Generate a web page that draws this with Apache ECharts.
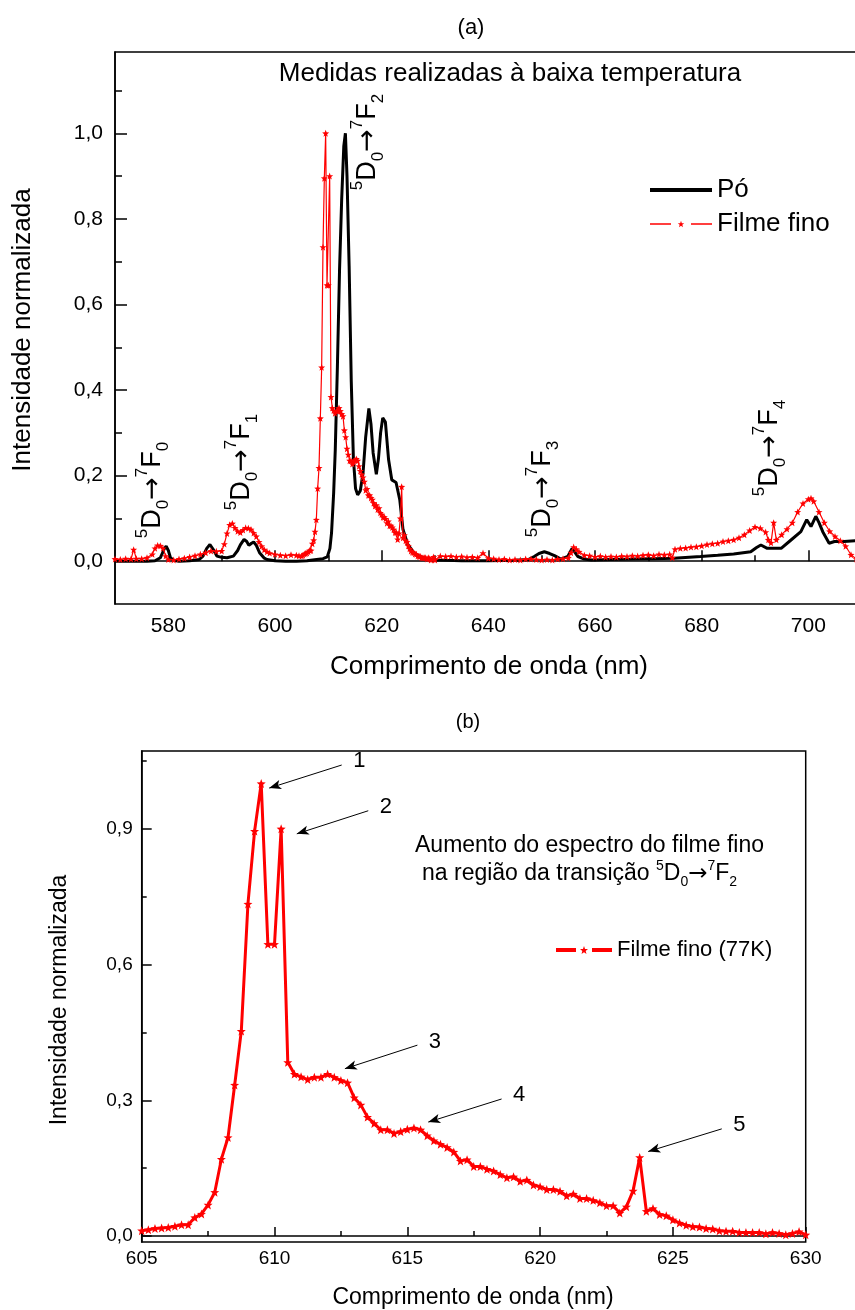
<!DOCTYPE html>
<html>
<head>
<meta charset="utf-8">
<script src="https://cdn.jsdelivr.net/npm/echarts@6/dist/echarts.min.js"></script>
<style>
  html, body { margin: 0; padding: 0; background: #fff; }
  #chart { width: 855px; height: 1310px; }
</style>
</head>
<body>
<div id="chart"></div>
<script>
// Low-temperature emission spectra (Eu3+ transitions)

// Powder ("Pó") spectrum
const poNm = [570, 572, 574, 576, 577.5, 578.5, 579.2, 579.6, 580.0, 580.4, 581, 582, 584, 585.8, 586.5, 587.2, 587.8, 588.4, 589.1, 590,
  591, 592.2, 593, 593.5, 594.2, 594.7, 595.1, 595.6, 596.0, 596.5, 597.1, 598, 598.5, 600, 602, 604, 606, 607.8, 609, 609.8,
  610.3, 610.6, 611.0, 611.3, 611.7, 612.1, 612.5, 612.9, 613.2, 613.5, 613.9, 614.3, 614.7, 615.1, 615.5, 616.0, 616.5, 617.0, 617.6, 618.0,
  618.4, 619.0, 619.4, 619.8, 620.2, 620.7, 621.3, 621.9, 622.7, 623.4, 624.0, 624.9, 626.1, 627.2, 628.5, 629.7, 632, 635, 640, 645,
  647.5, 648.6, 649.5, 650.5, 651.5, 652.4, 653.6, 654.9, 655.7, 656.8, 658, 659.3, 663, 667.3, 671, 674.8, 679.8, 683, 686, 689.2,
  690.3, 691.1, 692.3, 694.9, 696.7, 698.6, 699.7, 700.5, 701.4, 702.0, 702.7, 703.9, 704.9, 706.7, 708.9, 712];
const poInt = [0.0, 0.0, 0.0, 0.0, 0.001, 0.008, 0.028, 0.035, 0.025, 0.008, 0.002, 0.0, 0.001, 0.004, 0.012, 0.03, 0.039, 0.028, 0.012, 0.009,
  0.008, 0.012, 0.025, 0.038, 0.051, 0.046, 0.037, 0.042, 0.045, 0.037, 0.02, 0.007, 0.004, 0.001, 0.0, 0.0, 0.001, 0.004, 0.006, 0.01,
  0.03, 0.066, 0.16, 0.26, 0.455, 0.68, 0.845, 0.97, 1.0, 0.9, 0.69, 0.42, 0.24, 0.17, 0.155, 0.165, 0.205, 0.29, 0.357, 0.32,
  0.253, 0.203, 0.24, 0.3, 0.335, 0.325, 0.237, 0.19, 0.184, 0.143, 0.074, 0.039, 0.019, 0.011, 0.005, 0.003, 0.002, 0.001, 0.001, 0.002,
  0.004, 0.011, 0.018, 0.022, 0.018, 0.013, 0.005, 0.011, 0.03, 0.011, 0.005, 0.003, 0.004, 0.005, 0.006, 0.007, 0.011, 0.014, 0.017, 0.022,
  0.032, 0.038, 0.03, 0.03, 0.049, 0.069, 0.097, 0.081, 0.105, 0.09, 0.069, 0.042, 0.046, 0.046, 0.048, 0.048];

// Thin film ("Filme fino", 77 K) spectrum
const filmeNm = [570, 571, 572, 573, 573.5, 574, 575, 576, 577, 577.5, 578, 578.5, 579, 579.5, 580, 581, 582, 583, 584, 585,
  586, 587, 588, 589, 590, 590.5, 591, 591.5, 592, 592.5, 593, 593.5, 594, 594.5, 595, 595.5, 596, 596.5, 597, 597.5,
  598, 598.5, 599, 600, 601, 602, 603, 604, 604.5,
  605.00, 605.25, 605.50, 605.75, 606.00, 606.25, 606.50, 606.75, 607.00, 607.25, 607.50, 607.75, 608.00, 608.25, 608.50, 608.75,
  609.00, 609.25, 609.50, 609.75, 610.00, 610.25, 610.50, 610.75, 611.00, 611.25, 611.50, 611.75, 612.00, 612.25, 612.50, 612.75,
  613.00, 613.25, 613.50, 613.75, 614.00, 614.25, 614.50, 614.75, 615.00, 615.25, 615.50, 615.75, 616.00, 616.25, 616.50, 616.75,
  617.00, 617.25, 617.50, 617.75, 618.00, 618.25, 618.50, 618.75, 619.00, 619.25, 619.50, 619.75, 620.00, 620.25, 620.50, 620.75,
  621.00, 621.25, 621.50, 621.75, 622.00, 622.25, 622.50, 622.75, 623.00, 623.25, 623.50, 623.75, 624.00, 624.25, 624.50, 624.75,
  625.00, 625.25, 625.50, 625.75, 626.00, 626.25, 626.50, 626.75, 627.00, 627.25, 627.50, 627.75, 628.00, 628.25, 628.50, 628.75,
  629.00, 629.25, 629.50, 629.75, 630.00,
  631, 632, 633, 634, 635, 636, 637, 638, 639, 640, 641, 642, 643, 644, 645, 646, 647, 648, 649, 650,
  651, 652, 653, 654, 655, 655.5, 656, 656.5, 657, 658, 659, 660, 661, 662, 663, 664, 665, 666, 667, 668,
  669, 670, 671, 672, 673, 674, 674.5, 675, 676, 677, 678, 679, 680, 681, 682, 683, 684, 685, 686, 687,
  688, 689, 690, 691, 692, 692.5, 693, 693.5, 694, 695, 696, 697, 698, 699, 700, 700.5, 701, 702, 703, 704,
  705, 706, 707, 708, 709];
const filmeInt = [0.005, 0.004, 0.006, 0.005, 0.027, 0.006, 0.006, 0.008, 0.016, 0.030, 0.037, 0.036, 0.030, 0.012, 0.004, 0.003, 0.005, 0.007, 0.010, 0.013,
  0.016, 0.020, 0.024, 0.023, 0.024, 0.040, 0.065, 0.085, 0.088, 0.078, 0.070, 0.067, 0.073, 0.078, 0.077, 0.074, 0.066, 0.058, 0.045, 0.035,
  0.027, 0.022, 0.019, 0.016, 0.014, 0.013, 0.015, 0.014, 0.013,
  0.012, 0.014, 0.017, 0.018, 0.019, 0.022, 0.025, 0.025, 0.041, 0.049, 0.069, 0.097, 0.170, 0.218, 0.334, 0.453,
  0.734, 0.895, 1.000, 0.645, 0.645, 0.900, 0.384, 0.358, 0.352, 0.346, 0.351, 0.351, 0.358, 0.351, 0.344, 0.339,
  0.306, 0.290, 0.263, 0.249, 0.235, 0.235, 0.227, 0.231, 0.236, 0.239, 0.235, 0.222, 0.211, 0.203, 0.196, 0.186,
  0.166, 0.169, 0.154, 0.154, 0.148, 0.144, 0.136, 0.129, 0.131, 0.121, 0.124, 0.113, 0.109, 0.103, 0.103, 0.099,
  0.089, 0.093, 0.083, 0.083, 0.079, 0.074, 0.067, 0.067, 0.051, 0.065, 0.100, 0.174, 0.055, 0.061, 0.048, 0.045,
  0.036, 0.029, 0.024, 0.021, 0.020, 0.017, 0.016, 0.012, 0.011, 0.011, 0.008, 0.008, 0.008, 0.008, 0.005, 0.008,
  0.006, 0.003, 0.006, 0.010, 0.003,
  0.012, 0.011, 0.012, 0.010, 0.011, 0.009, 0.010, 0.008, 0.019, 0.007, 0.006, 0.004, 0.005, 0.003, 0.004, 0.003, 0.005, 0.005, 0.004, 0.003,
  0.004, 0.003, 0.005, 0.006, 0.008, 0.020, 0.033, 0.028, 0.022, 0.014, 0.013, 0.010, 0.012, 0.010, 0.011, 0.010, 0.012, 0.011, 0.013, 0.012,
  0.014, 0.015, 0.013, 0.016, 0.015, 0.016, 0.008, 0.028, 0.030, 0.031, 0.033, 0.034, 0.036, 0.039, 0.041, 0.042, 0.046, 0.048, 0.050, 0.055,
  0.062, 0.072, 0.080, 0.077, 0.068, 0.050, 0.043, 0.090, 0.050, 0.062, 0.075, 0.090, 0.115, 0.135, 0.145, 0.147, 0.140, 0.115, 0.090, 0.070,
  0.058, 0.048, 0.035, 0.015, 0.005];

// Tick values
const topXMajor = [580, 600, 620, 640, 660, 680, 700];
const topXMinor = [590, 610, 630, 650, 670, 690, 710];
const topYMajor = [0, 0.2, 0.4, 0.6, 0.8, 1.0];
const topYMinor = [0.1, 0.3, 0.5, 0.7, 0.9, 1.1];
const botXMajor = [605, 610, 615, 620, 625, 630];
const botXMinor = [607.5, 612.5, 617.5, 622.5, 627.5];
const botYMajor = [0, 0.3, 0.6, 0.9];
const botYMinor = [0.15, 0.45, 0.75, 1.05];

// Numbered callouts in panel (b): [label, startNm, startI, endNm, endI]
const callouts = [
  ['1', 612.53, 1.041, 609.80, 0.990],
  ['2', 613.53, 0.940, 610.84, 0.889],
  ['3', 615.38, 0.422, 612.65, 0.370],
  ['4', 618.55, 0.303, 615.79, 0.252],
  ['5', 626.84, 0.237, 624.07, 0.187]
];

const FONT = '"Liberation Sans", Arial, sans-serif';
const ARROW_FONT = '"DejaVu Sans", sans-serif';
const BLACK = '#000';
const RED = '#ff0000';

// five-pointed star marker
function starPath() {
  let d = 'path://';
  for (let i = 0; i < 10; i++) {
    const r = i % 2 ? 0.42 : 1;
    const a = -Math.PI / 2 + i * Math.PI / 5;
    d += (i ? 'L' : 'M') + (r * Math.cos(a) + 1).toFixed(3) + ',' + (r * Math.sin(a) + 1).toFixed(3);
  }
  return d + 'Z';
}
const STAR = starPath();

const pairs = (xs, ys) => xs.map((x, i) => [x, ys[i]]);
const poData = pairs(poNm, poInt);
const filmeData = pairs(filmeNm, filmeInt);
const filmeZoom = filmeData.filter(p => p[0] >= 605 && p[0] <= 630);

const comma = v => v.toFixed(1).replace('.', ',');
const tickLine = { color: BLACK, width: 1.5 };

function xAxisPair(grid, min, max, major, minor, majLen, minLen, fontSize, margin) {
  return [
    { gridIndex: grid, type: 'value', min, max, position: 'bottom',
      axisLine: { show: true, lineStyle: tickLine },
      axisTick: { show: true, inside: true, length: majLen, customValues: major, lineStyle: tickLine },
      axisLabel: { show: true, customValues: major, color: BLACK, fontSize, fontFamily: FONT, margin },
      splitLine: { show: false } },
    { gridIndex: grid, type: 'value', min, max, position: 'bottom',
      axisLine: { show: false },
      axisTick: { show: true, inside: true, length: minLen, customValues: minor, lineStyle: tickLine },
      axisLabel: { show: false }, splitLine: { show: false } }
  ];
}
function yAxisPair(grid, min, max, major, minor, majLen, minLen, fontSize, margin) {
  return [
    { gridIndex: grid, type: 'value', min, max, position: 'left',
      axisLine: { show: true, lineStyle: tickLine },
      axisTick: { show: true, inside: true, length: majLen, customValues: major, lineStyle: tickLine },
      axisLabel: { show: true, customValues: major, formatter: comma, color: BLACK, fontSize, fontFamily: FONT, margin },
      splitLine: { show: false } },
    { gridIndex: grid, type: 'value', min, max, position: 'left',
      axisLine: { show: false },
      axisTick: { show: true, inside: true, length: minLen, customValues: minor, lineStyle: tickLine },
      axisLabel: { show: false }, splitLine: { show: false } }
  ];
}

// rotated transition labels  5D0 -> 7Fn
function transitionRich(main, small) {
  return {
    m: { fontSize: main, fontFamily: FONT, fill: BLACK, lineHeight: 38 },
    ar: { fontSize: main, fontFamily: ARROW_FONT, fill: BLACK, lineHeight: 38 },
    sup: { fontSize: small, fontFamily: FONT, fill: BLACK, lineHeight: 16, verticalAlign: 'top' },
    sub: { fontSize: small, fontFamily: FONT, fill: BLACK, lineHeight: 14, verticalAlign: 'bottom' }
  };
}
const transText = n => '{sup|5}{m|D}{sub|0}{ar|\u2192}{sup|7}{m|F}{sub|' + n + '}';
function transitionLabel(n, x, y) {
  return { type: 'text', x, y, rotation: Math.PI / 2,
    style: { text: transText(n), rich: transitionRich(27, 17), align: 'center', verticalAlign: 'middle' } };
}
function plainText(text, x, y, size, rot, align) {
  return { type: 'text', x, y, rotation: rot || 0,
    style: { text, fontSize: size, fontFamily: FONT, fill: BLACK, align: align || 'center', verticalAlign: 'middle' } };
}

const chart = echarts.init(document.getElementById('chart'), null, { renderer: 'canvas' });

const option = {
  animation: false,
  backgroundColor: '#fff',
  grid: [
    { left: 115, top: 52, width: 800, height: 552, outerBoundsMode: 'none', containLabel: false,
      show: true, borderColor: BLACK, borderWidth: 1.5 },
    { left: 141.7, top: 751, width: 664, height: 491, outerBoundsMode: 'none', containLabel: false,
      show: true, borderColor: BLACK, borderWidth: 1.5 }
  ],
  xAxis: [
    ...xAxisPair(0, 570, 720, topXMajor, topXMinor, 11, 6, 21, 12),
    ...xAxisPair(1, 605, 630, botXMajor, botXMinor, 9, 5, 19, 7)
  ],
  yAxis: [
    ...yAxisPair(0, -0.1, 1.19, topYMajor, topYMinor, 12, 7, 21, 12),
    ...yAxisPair(1, -0.013, 1.072, botYMajor, botYMinor, 10, 5, 19, 9)
  ],
  legend: [
    { orient: 'vertical', left: 648, top: 173, padding: 0, itemGap: 0, itemWidth: 62, itemHeight: 8,
      textStyle: { fontSize: 26, fontFamily: FONT, color: BLACK, lineHeight: 34 },
      data: [
        { name: 'Pó', lineStyle: { width: 4 }, itemStyle: { opacity: 0 } },
        { name: 'Filme fino', lineStyle: { width: 1.5, type: [21, 20] } }
      ] },
    { orient: 'vertical', left: 554, top: 935, padding: 0, itemWidth: 56, itemHeight: 10,
      textStyle: { fontSize: 22, fontFamily: FONT, color: BLACK, lineHeight: 30 },
      data: [ { name: 'Filme fino (77K)', lineStyle: { width: 4, type: [20, 16] } } ] }
  ],
  series: [
    { name: 'Pó', type: 'line', xAxisIndex: 0, yAxisIndex: 0, data: poData,
      symbol: 'none', lineStyle: { color: BLACK, width: 3 }, itemStyle: { color: BLACK } },
    { name: 'Filme fino', type: 'line', xAxisIndex: 0, yAxisIndex: 0, data: filmeData,
      symbol: STAR, symbolSize: 7, showSymbol: true, showAllSymbol: true,
      lineStyle: { color: RED, width: 1.2 }, itemStyle: { color: RED } },
    { name: 'Filme fino (77K)', type: 'line', xAxisIndex: 2, yAxisIndex: 2, data: filmeZoom,
      symbol: STAR, symbolSize: 9, showSymbol: true, showAllSymbol: true,
      lineStyle: { color: RED, width: 3 }, itemStyle: { color: RED },
      markLine: {
        silent: true, animation: false,
        lineStyle: { color: BLACK, width: 1, type: 'solid' },
        itemStyle: { color: BLACK },
        label: { show: true, position: 'start', distance: 12, formatter: '{b}', color: BLACK, fontSize: 22, fontFamily: FONT },
        emphasis: { disabled: true },
        data: callouts.map(c => [
          { name: c[0], coord: [c[1], c[2]], symbol: 'none' },
          { coord: [c[3], c[4]], symbol: 'arrow', symbolSize: [7, 12] }
        ])
      } }
  ],
  graphic: [
    plainText('(a)', 471, 28, 22),
    plainText('Medidas realizadas à baixa temperatura', 510, 74, 26),
    plainText('Comprimento de onda (nm)', 489, 667, 26),
    plainText('Intensidade normalizada', 23, 330, 26, Math.PI / 2),
    transitionLabel('0', 153, 490),
    transitionLabel('1', 242, 462),
    transitionLabel('2', 368, 142),
    transitionLabel('3', 543, 489),
    transitionLabel('4', 770, 448),
    plainText('(b)', 468, 722, 20),
    plainText('Intensidade normalizada', 60, 1000, 23, Math.PI / 2),
    plainText('Comprimento de onda (nm)', 473, 1298, 23),
    plainText('Aumento do espectro do filme fino', 415, 846, 23, 0, 'left'),
    { type: 'text', x: 422, y: 874,
      style: { text: '{m|na região da transição }{sup|5}{m|D}{sub|0}{ar|\u2192}{sup|7}{m|F}{sub|2}',
        align: 'left', verticalAlign: 'middle',
        rich: {
          m: { fontSize: 23, fontFamily: FONT, fill: BLACK, lineHeight: 30 },
          ar: { fontSize: 23, fontFamily: ARROW_FONT, fill: BLACK, lineHeight: 30 },
          sup: { fontSize: 14, fontFamily: FONT, fill: BLACK, lineHeight: 14, verticalAlign: 'top' },
          sub: { fontSize: 14, fontFamily: FONT, fill: BLACK, lineHeight: 14, verticalAlign: 'bottom' }
        } } }
  ]
};

chart.setOption(option);
</script>
</body>
</html>
